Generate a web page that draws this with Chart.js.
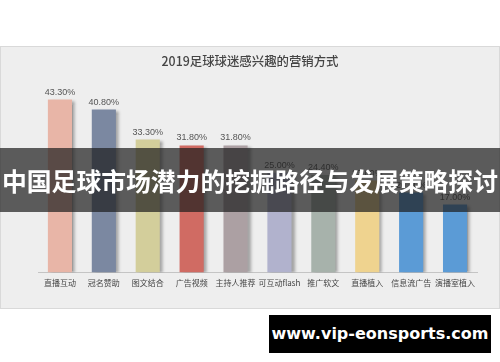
<!DOCTYPE html>
<html>
<head>
<meta charset="utf-8">
<script src="https://cdn.jsdelivr.net/npm/chart.js@4"></script>
<style>
  html, body { margin: 0; padding: 0; background: #fff; }
  body { width: 500px; height: 362px; position: relative; overflow: hidden; font-family: "Noto Sans CJK SC", sans-serif; }
  #panel { position: absolute; left: 0; top: 46px; width: 498px; height: 261px; background: #eeeeee; border: 1px solid #d9d9d9; }
  #panel canvas { position: absolute; left: 0; top: 0; }
  #banner { position: absolute; left: 0; top: 148px; width: 500px; height: 64px; background: rgba(28,28,28,0.7);
            color: #fff; font-weight: bold; font-size: 24.8px; line-height: 64px; text-align: center; white-space: nowrap; }
  #mark { position: absolute; left: 269px; top: 315px; width: 222px; height: 38px; background: #000; color: #fff;
          font-family: "DejaVu Sans", sans-serif; font-weight: bold; font-size: 16px; line-height: 38px; text-align: center; }
</style>
</head>
<body>
<div id="panel"><canvas id="chart" width="498" height="261"></canvas></div>
<div id="banner">中国足球市场潜力的挖掘路径与发展策略探讨</div>
<div id="mark">www.vip-eonsports.com</div>
<script>
const categories = ['直播互动', '冠名赞助', '图文结合', '广告视频', '主持人推荐', '可互动flash', '推广软文', '直播植入', '信息流广告', '演播室植入'];
const values = [43.3, 40.8, 33.3, 31.8, 31.8, 25.0, 24.4, 23.0, 20.0, 17.0];
const barColors = ['#e8b5a7', '#7b88a1', '#d3ce9b', '#d06b63', '#aca0a3', '#b1b2cd', '#a7b2ab', '#efd38f', '#5b9bd6', '#5b9bd6'];

const shadowPlugin = {
  id: 'barShadow',
  beforeDatasetsDraw(chart) {
    const ctx = chart.ctx;
    ctx.save();
    ctx.shadowColor = 'rgba(0,0,0,0.35)';
    ctx.shadowOffsetX = 3;
    ctx.shadowOffsetY = 1;
    ctx.shadowBlur = 3;
  },
  afterDatasetsDraw(chart) {
    chart.ctx.restore();
  }
};

const labelPlugin = {
  id: 'valueLabels',
  afterDatasetsDraw(chart) {
    const ctx = chart.ctx;
    const meta = chart.getDatasetMeta(0);
    ctx.save();
    ctx.font = '9px "Liberation Sans", sans-serif';
    ctx.fillStyle = '#555';
    ctx.textAlign = 'center';
    ctx.textBaseline = 'bottom';
    meta.data.forEach((bar, i) => {
      ctx.fillText(values[i].toFixed(2) + '%', bar.x, bar.y - 3);
    });
    ctx.restore();
  }
};

// invisible side axes just to reserve space, so the title stays centred
const spacer = (w, pos) => ({
  position: pos, display: true, min: 0, max: 50,
  grid: { display: false }, border: { display: false },
  ticks: { display: false },
  afterFit(scale) { scale.width = w; }
});

new Chart(document.getElementById('chart'), {
  type: 'bar',
  data: {
    labels: categories,
    datasets: [{
      data: values,
      backgroundColor: barColors,
      categoryPercentage: 1,
      barPercentage: 0.55
    }]
  },
  options: {
    responsive: false,
    animation: false,
    layout: { padding: { left: 0, right: 0, top: 0, bottom: 14 } },
    plugins: {
      legend: { display: false },
      tooltip: { enabled: false },
      title: {
        display: true,
        text: '2019足球球迷感兴趣的营销方式',
        color: '#444',
        font: { family: '"Noto Sans CJK SC", sans-serif', size: 12.4, weight: '500' },
        padding: { top: 7, bottom: 4 }
      }
    },
    scales: {
      x: {
        grid: { display: false, drawTicks: false },
        border: { display: true, color: '#c4c4c4', width: 1 },
        ticks: { color: '#444', padding: 6, maxRotation: 0, autoSkip: false,
                 font: { family: '"Noto Sans CJK SC", sans-serif', size: 8 } }
      },
      y: spacer(37, 'left'),
      y2: spacer(22, 'right')
    }
  },
  plugins: [shadowPlugin, labelPlugin]
});
</script>
</body>
</html>
